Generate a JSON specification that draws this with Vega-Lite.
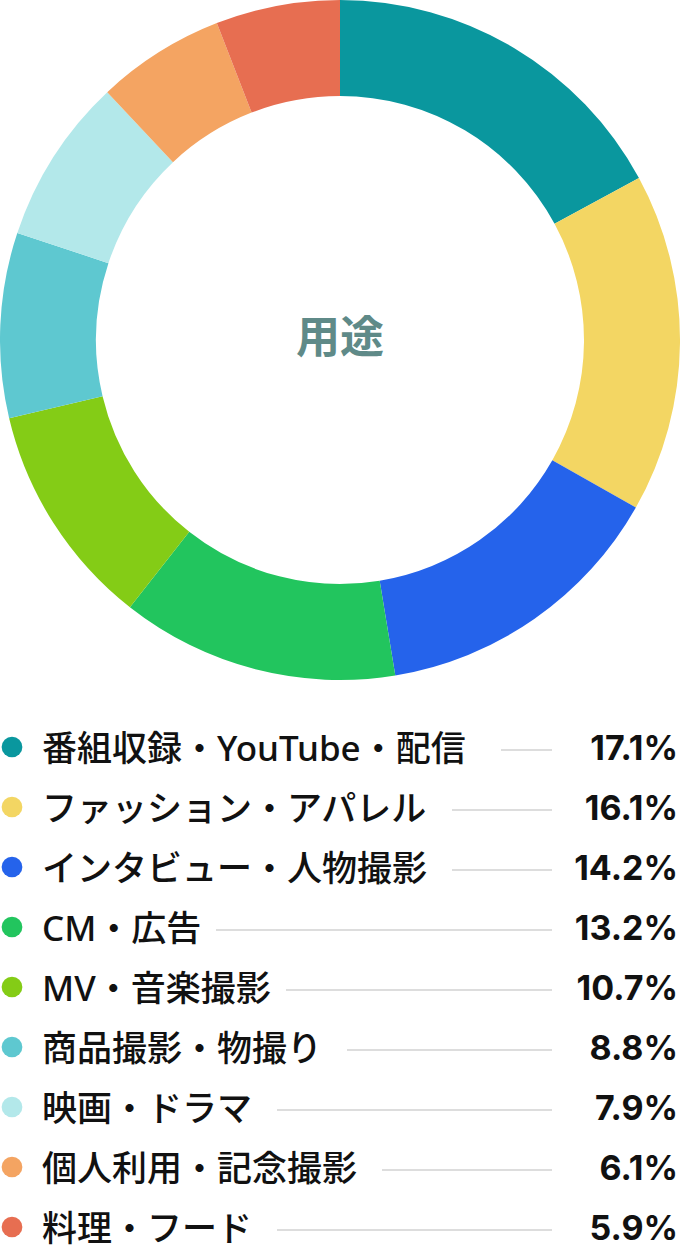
{
  "$schema": "https://vega.github.io/schema/vega-lite/v6.json",
  "padding": 0,
  "spacing": 0,
  "background": "white",
  "config": {
    "view": {"stroke": null},
    "font": "Noto Sans CJK JP"
  },
  "datasets": {
    "uses": [
      {"rank": 1, "label": "番組収録・YouTube・配信", "value": 17.1},
      {"rank": 2, "label": "ファッション・アパレル", "value": 16.1},
      {"rank": 3, "label": "インタビュー・人物撮影", "value": 14.2},
      {"rank": 4, "label": "CM・広告", "value": 13.2},
      {"rank": 5, "label": "MV・音楽撮影", "value": 10.7},
      {"rank": 6, "label": "商品撮影・物撮り", "value": 8.8},
      {"rank": 7, "label": "映画・ドラマ", "value": 7.9},
      {"rank": 8, "label": "個人利用・記念撮影", "value": 6.1},
      {"rank": 9, "label": "料理・フード", "value": 5.9}
    ]
  },
  "vconcat": [
    {
      "width": 680,
      "height": 680,
      "layer": [
        {
          "data": {"name": "uses"},
          "mark": {"type": "arc", "outerRadius": 340, "innerRadius": 244},
          "encoding": {
            "theta": {"field": "value", "type": "quantitative", "stack": true},
            "order": {"field": "rank", "type": "quantitative"},
            "color": {
              "field": "label",
              "type": "nominal",
              "legend": null,
              "scale": {
                "domain": ["番組収録・YouTube・配信", "ファッション・アパレル", "インタビュー・人物撮影", "CM・広告", "MV・音楽撮影", "商品撮影・物撮り", "映画・ドラマ", "個人利用・記念撮影", "料理・フード"],
                "range": ["#0a979e", "#f3d663", "#2563eb", "#22c55e", "#84cc16", "#5ec8d0", "#b3e8ea", "#f4a462", "#e76e51"]
              }
            }
          }
        },
        {
          "data": {"values": [{"center": "用途"}]},
          "mark": {"type": "text", "fontSize": 44, "fontWeight": "bold", "color": "#5f8a88", "baseline": "middle", "align": "center"},
          "encoding": {"text": {"field": "center"}}
        }
      ]
    },
    {
      "width": 680,
      "height": 580,
      "data": {"name": "uses"},
      "transform": [
        {"calculate": "length(replace(datum.label, regexp('[^ -~]', 'g'), ''))", "as": "asciiCount"},
        {"calculate": "42 + 35 * (length(datum.label) - datum.asciiCount) + 22 * datum.asciiCount + 25", "as": "lineStart"},
        {"calculate": "format(datum.value, '.1f') + '%'", "as": "pct"}
      ],
      "encoding": {
        "y": {
          "field": "label",
          "type": "nominal",
          "sort": {"field": "rank"},
          "axis": null,
          "scale": {"type": "point", "range": [70, 550], "padding": 0}
        }
      },
      "layer": [
        {
          "mark": {"type": "circle", "size": 430, "opacity": 1, "yOffset": -3},
          "encoding": {
            "x": {"datum": 12, "type": "quantitative", "scale": {"domain": [0, 680], "nice": false, "zero": true}, "axis": null},
            "color": {
              "field": "label",
              "type": "nominal",
              "legend": null,
              "scale": {
                "domain": ["番組収録・YouTube・配信", "ファッション・アパレル", "インタビュー・人物撮影", "CM・広告", "MV・音楽撮影", "商品撮影・物撮り", "映画・ドラマ", "個人利用・記念撮影", "料理・フード"],
                "range": ["#0a979e", "#f3d663", "#2563eb", "#22c55e", "#84cc16", "#5ec8d0", "#b3e8ea", "#f4a462", "#e76e51"]
              }
            }
          }
        },
        {
          "mark": {"type": "text", "fontSize": 35, "font": "Noto Sans, Noto Sans CJK JP", "fontWeight": 500, "align": "left", "baseline": "middle", "color": "#111111"},
          "encoding": {
            "x": {"datum": 42, "type": "quantitative"},
            "text": {"field": "label"}
          }
        },
        {
          "mark": {"type": "rule", "strokeWidth": 2, "color": "#dddddd"},
          "encoding": {
            "x": {"field": "lineStart", "type": "quantitative"},
            "x2": {"datum": 552}
          }
        },
        {
          "mark": {"type": "text", "fontSize": 34, "font": "Inter", "fontWeight": "bold", "align": "right", "baseline": "middle", "color": "#111111"},
          "encoding": {
            "x": {"datum": 678, "type": "quantitative"},
            "text": {"field": "pct"}
          }
        }
      ]
    }
  ]
}
